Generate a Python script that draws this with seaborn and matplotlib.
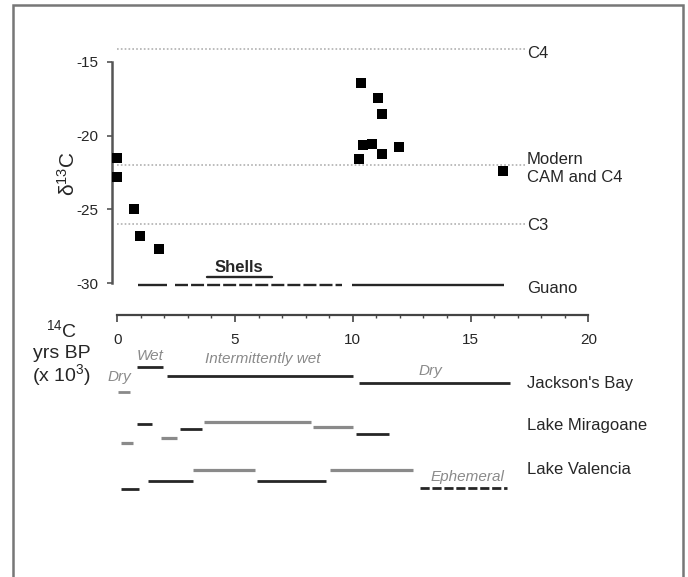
import numpy as np
import matplotlib
matplotlib.use("Agg")
import matplotlib.pyplot as plt
from matplotlib.patches import Rectangle
import seaborn as sns

# radiocarbon age (x 1000 yr BP) and d13C of guano samples
age_ka = [0.0, 0.0, 0.69, 0.97, 1.76, 10.35, 11.06, 11.25, 10.45, 10.83, 11.23, 10.26, 11.96, 16.37]
d13c = [-21.55, -22.8, -25.0, -26.8, -27.7, -16.45, -17.45, -18.55, -20.65, -20.55, -21.25, -21.6, -20.8, -22.4]

# reference values for plant types
ref_values = [-14.15, -22.0, -26.0]
ref_end = 17.3

# guano and shell sample spans (start, end, d13C level)
guano_solid = [(0.87, 2.12), (9.95, 16.4)]
guano_dashed = [(2.45, 9.53)]
guano_level = -30.1
shells_span = (3.8, 6.56)
shells_level = -29.55

# palaeoclimate records: start, end, level
jackson_start = [0.82, 2.1, 10.28, 0.04]
jackson_end = [1.93, 10.02, 16.67, 0.54]
jackson_y = [-35.69, -36.27, -36.77, -37.36]

miragoane_start = [0.84, 0.14, 1.86, 2.67, 3.68, 8.32, 10.14]
miragoane_end = [1.47, 0.65, 2.54, 3.58, 8.21, 10.02, 11.55]
miragoane_y = [-39.53, -40.84, -40.46, -39.87, -39.37, -39.71, -40.2]

valencia_start = [0.14, 1.29, 3.2, 5.95, 9.03]
valencia_end = [0.93, 3.2, 5.85, 8.85, 12.57]
valencia_y = [-43.95, -43.42, -42.64, -43.42, -42.64]
ephemeral_span = (12.85, 16.53)
ephemeral_level = -43.86

sns.set_theme(style="white")
plt.rcParams["font.family"] = ["Liberation Sans", "DejaVu Sans"]
plt.rcParams["mathtext.fontset"] = "custom"
plt.rcParams["mathtext.rm"] = "Liberation Sans"
plt.rcParams["mathtext.it"] = "Liberation Sans:italic"
plt.rcParams["axes.unicode_minus"] = False

dark = "#262626"
grey = "#8a8a8a"

fig = plt.figure(figsize=(6.88, 5.77), dpi=100)
ax = fig.add_axes([0.13626, 0.12513, 0.75305, 0.81914])
ax.set_xlim(-1, 21)
ax.set_ylim(-45, -13)

# reference lines
for v in ref_values:
    ax.plot([0, ref_end], [v, v], color="#b0b0b0", lw=1.2, ls=(0, (1, 1.3)))
ax.text(17.4, -14.45, "C4", ha="left", va="center", fontsize=12, color=dark)
ax.text(17.4, -21.61, "Modern", ha="left", va="center", fontsize=12, color=dark)
ax.text(17.4, -22.83, "CAM and C4", ha="left", va="center", fontsize=12, color=dark)
ax.text(17.4, -26.06, "C3", ha="left", va="center", fontsize=12, color=dark)

sns.scatterplot(x=age_ka, y=d13c, marker="s", s=60, color="black",
                edgecolor="black", linewidth=0, ax=ax, zorder=5)

# guano / shells spans
for a, b in guano_solid:
    ax.plot([a, b], [guano_level, guano_level], color=dark, lw=1.7, solid_capstyle="butt")
for a, b in guano_dashed:
    ax.plot([a, b], [guano_level, guano_level], color=dark, lw=1.7, ls=(0, (5.5, 1.3)))
ax.plot(shells_span, [shells_level, shells_level], color=dark, lw=1.7)
ax.text(np.mean(shells_span), -28.9, "Shells", ha="center", va="center", fontsize=12,
        color=dark, fontweight="bold")
ax.text(17.4, -30.34, "Guano", ha="left", va="center", fontsize=12, color=dark)

# records
jackson_col = [dark, dark, dark, grey]
for a, b, y, c in zip(jackson_start, jackson_end, jackson_y, jackson_col):
    ax.plot([a, b], [y, y], color=c, lw=2.0, solid_capstyle="butt")
miragoane_col = [dark, grey, grey, dark, grey, grey, dark]
for a, b, y, c in zip(miragoane_start, miragoane_end, miragoane_y, miragoane_col):
    ax.plot([a, b], [y, y], color=c, lw=2.3 if c == grey else 2.0, solid_capstyle="butt")
valencia_col = [dark, dark, grey, dark, grey]
for a, b, y, c in zip(valencia_start, valencia_end, valencia_y, valencia_col):
    ax.plot([a, b], [y, y], color=c, lw=2.3 if c == grey else 2.0, solid_capstyle="butt")
ax.plot(ephemeral_span, [ephemeral_level, ephemeral_level], color=dark, lw=2.0,
        ls=(0, (3.3, 1.0)))

ax.text(17.4, -36.82, "Jackson's Bay", ha="left", va="center", fontsize=12, color=dark)
ax.text(17.4, -39.66, "Lake Miragoane", ha="left", va="center", fontsize=12, color=dark)
ax.text(17.4, -42.6, "Lake Valencia", ha="left", va="center", fontsize=12, color=dark)

it = dict(ha="center", va="center", fontsize=11, color=grey, style="italic")
ax.text(1.39, -34.93, "Wet", **it)
ax.text(6.17, -35.13, "Intermittently wet", **it)
ax.text(0.09, -36.35, "Dry", **it)
ax.text(13.28, -35.94, "Dry", **it)
ax.text(14.89, -43.15, "Ephemeral", **it)

# axis labels
ax.text(-2.09, -22.6, r"δ$^{13}$C", rotation=90, ha="center", va="center",
        fontsize=15, color=dark)
ax.text(-2.35, -33.17, r"$^{14}$C", ha="center", va="center", fontsize=14, color=dark)
ax.text(-2.35, -34.73, "yrs BP", ha="center", va="center", fontsize=14, color=dark)
ax.text(-2.35, -36.22, r"(x 10$^{3}$)", ha="center", va="center", fontsize=14, color=dark)

# spines and ticks
for s in ["top", "right"]:
    ax.spines[s].set_visible(False)
ax.spines["left"].set_position(("data", -0.24))
ax.spines["left"].set_bounds(-30, -15)
ax.spines["left"].set_color("#555555")
ax.spines["left"].set_linewidth(1.8)
ax.spines["bottom"].set_position(("data", -32.12))
ax.spines["bottom"].set_bounds(0, 20)
ax.spines["bottom"].set_color("#444444")
ax.spines["bottom"].set_linewidth(1.6)

ax.set_yticks([-15, -20, -25, -30])
ax.set_xticks([0, 5, 10, 15, 20])
ax.set_xticks(range(0, 21), minor=True)
ax.tick_params(axis="y", which="major", direction="out", length=3.6, width=1.2,
               color="#555555", pad=6, labelsize=11, labelcolor=dark, left=True)
ax.tick_params(axis="x", which="major", direction="out", length=5, width=1.2,
               color="#444444", pad=8, labelsize=11, labelcolor=dark, bottom=True)
ax.tick_params(axis="x", which="minor", direction="out", length=2.2, width=1.0,
               color="#444444", bottom=True)
ax.grid(False)

fig.add_artist(Rectangle((13 / 688, -0.05), 670 / 688, 572 / 577 + 0.05,
                         transform=fig.transFigure, fill=False,
                         edgecolor="#777777", lw=1.8))

fig.savefig("out.png", dpi=100)
